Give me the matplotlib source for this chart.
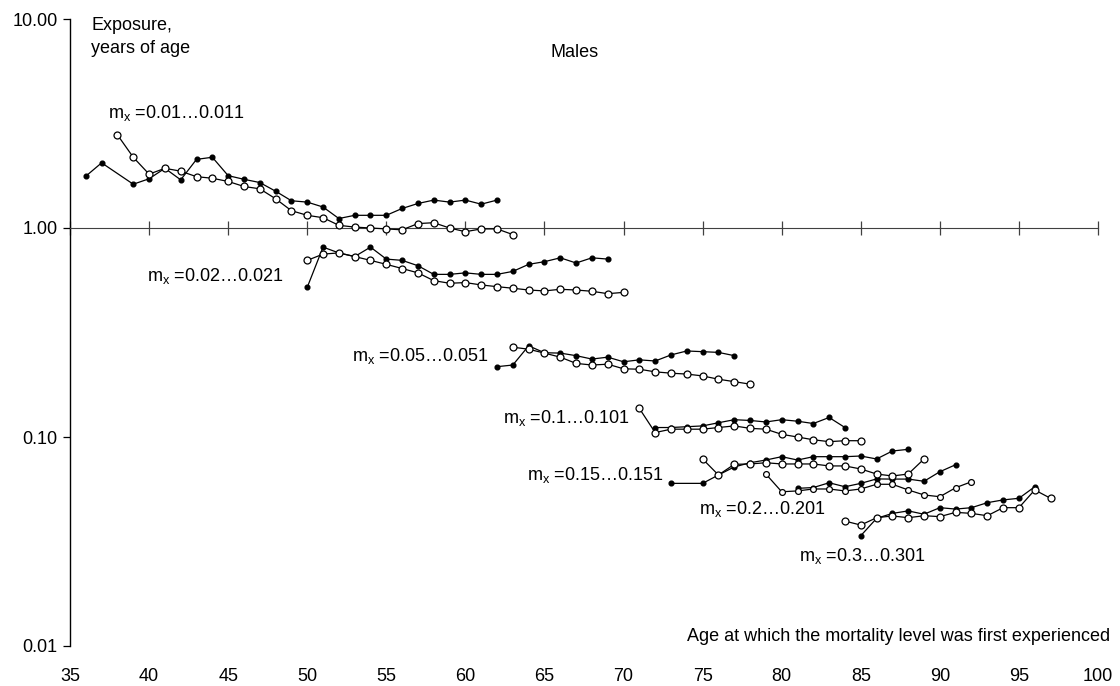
import matplotlib
matplotlib.use("Agg")
import matplotlib.pyplot as plt

plt.rcParams['font.family'] = ['Liberation Sans', 'DejaVu Sans']
plt.rcParams['mathtext.fontset'] = 'custom'
plt.rcParams['mathtext.rm'] = 'Liberation Sans'
plt.rcParams['mathtext.it'] = 'Liberation Sans'
plt.rcParams['mathtext.default'] = 'regular'

FS = 13

# ---------------- data ----------------
s1_filled_age = [36, 37, 39, 40, 41, 42, 43, 44, 45, 46, 47, 48, 49, 50, 51, 52, 53, 54, 55, 56, 57, 58, 59, 60, 61, 62]
s1_filled_val = [1.77, 2.05, 1.62, 1.72, 1.93, 1.70, 2.13, 2.18, 1.78, 1.71, 1.65, 1.50, 1.35, 1.33, 1.26, 1.11,
                 1.15, 1.15, 1.15, 1.24, 1.31, 1.36, 1.33, 1.36, 1.30, 1.36]
s1_open_age = [38, 39, 40, 41, 42, 43, 44, 45, 46, 47, 48, 49, 50, 51, 52, 53, 54, 55, 56, 57, 58, 59, 60, 61, 62, 63]
s1_open_val = [2.79, 2.18, 1.81, 1.93, 1.87, 1.76, 1.73, 1.67, 1.58, 1.54, 1.38, 1.21, 1.15, 1.12, 1.03, 1.01,
               1.00, 0.99, 0.98, 1.05, 1.06, 1.00, 0.96, 0.99, 0.99, 0.93]

s2_filled_age = [50, 51, 52, 53, 54, 55, 56, 57, 58, 59, 60, 61, 62, 63, 64, 65, 66, 67, 68, 69]
s2_filled_val = [0.52, 0.81, 0.76, 0.73, 0.81, 0.71, 0.70, 0.66, 0.60, 0.60, 0.61, 0.60, 0.60, 0.62, 0.67,
                 0.69, 0.72, 0.68, 0.72, 0.71]
s2_open_age = [50, 51, 52, 53, 54, 55, 56, 57, 58, 59, 60, 61, 62, 63, 64, 65, 66, 67, 68, 69, 70]
s2_open_val = [0.70, 0.75, 0.76, 0.73, 0.70, 0.67, 0.64, 0.61, 0.56, 0.544, 0.548, 0.534, 0.524, 0.515, 0.505,
               0.500, 0.509, 0.505, 0.498, 0.485, 0.492]

s3_filled_age = [62, 63, 64, 65, 66, 67, 68, 69, 70, 71, 72, 73, 74, 75, 76, 77]
s3_filled_val = [0.217, 0.221, 0.273, 0.253, 0.252, 0.245, 0.236, 0.241, 0.229, 0.234, 0.231, 0.247, 0.258,
                 0.256, 0.254, 0.245]
s3_open_age = [63, 64, 65, 66, 67, 68, 69, 70, 71, 72, 73, 74, 75, 76, 77, 78]
s3_open_val = [0.269, 0.263, 0.252, 0.241, 0.225, 0.221, 0.223, 0.212, 0.211, 0.205, 0.202, 0.200, 0.196,
               0.189, 0.184, 0.179]

s4_filled_age = [72, 73, 74, 75, 76, 77, 78, 79, 80, 81, 82, 83, 84]
s4_filled_val = [0.111, 0.111, 0.112, 0.113, 0.117, 0.121, 0.120, 0.118, 0.121, 0.119, 0.116, 0.124, 0.111]
s4_open_age = [71, 72, 73, 74, 75, 76, 77, 78, 79, 80, 81, 82, 83, 84, 85]
s4_open_val = [0.137, 0.105, 0.109, 0.109, 0.109, 0.111, 0.113, 0.110, 0.109, 0.103, 0.100, 0.097, 0.095,
               0.096, 0.096]

s5_filled_age = [73, 75, 76, 77, 78, 79, 80, 81, 82, 83, 84, 85, 86, 87, 88]
s5_filled_val = [0.0600, 0.0600, 0.0658, 0.0719, 0.0753, 0.0776, 0.0805, 0.0776, 0.0805, 0.0805, 0.0805,
                 0.0811, 0.0785, 0.0857, 0.0873]
s5_open_age = [75, 76, 77, 78, 79, 80, 81, 82, 83, 84, 85, 86, 87, 88, 89]
s5_open_val = [0.0785, 0.0658, 0.0740, 0.0743, 0.0753, 0.0743, 0.0743, 0.0743, 0.0727, 0.0727, 0.0703,
               0.0665, 0.0651, 0.0665, 0.0785]

s6_filled_age = [81, 82, 83, 84, 85, 86, 87, 88, 89, 90, 91]
s6_filled_val = [0.0568, 0.0573, 0.0604, 0.0578, 0.0600, 0.0630, 0.0629, 0.0629, 0.0614, 0.0682, 0.0737]
s6_open_age = [79, 80, 81, 82, 83, 84, 85, 86, 87, 88, 89, 90, 91, 92]
s6_open_val = [0.0665, 0.0547, 0.0552, 0.0564, 0.0564, 0.0552, 0.0564, 0.0594, 0.0594, 0.0558, 0.0528,
               0.0518, 0.0572, 0.0611]

s7_filled_age = [85, 86, 87, 88, 89, 90, 91, 92, 93, 94, 95, 96]
s7_filled_val = [0.0337, 0.0408, 0.0431, 0.0443, 0.0427, 0.0459, 0.0452, 0.0459, 0.0485, 0.0500, 0.0509, 0.0578]
s7_open_age = [84, 85, 86, 87, 88, 89, 90, 91, 92, 93, 94, 95, 96, 97]
s7_open_val = [0.0396, 0.0379, 0.0411, 0.0419, 0.0411, 0.0420, 0.0416, 0.0436, 0.0431, 0.0420, 0.0459,
               0.0459, 0.0558, 0.0509]

group_labels = ['m$_{x}$ =0.01…0.011', 'm$_{x}$ =0.02…0.021', 'm$_{x}$ =0.05…0.051',
                'm$_{x}$ =0.1…0.101', 'm$_{x}$ =0.15…0.151', 'm$_{x}$ =0.2…0.201', 'm$_{x}$ =0.3…0.301']
label_x = [37.4, 39.9, 52.8, 62.4, 63.9, 74.8, 81.1]
label_y = [3.55, 0.589, 0.244, 0.1233, 0.0658, 0.0452, 0.0270]

x_ticks = [35, 40, 45, 50, 55, 60, 65, 70, 75, 80, 85, 90, 95, 100]
y_ticks = [0.01, 0.1, 1, 10]
y_tick_labels = ['0.01', '0.10', '1.00', '10.00']

# ---------------- figure ----------------
fig = plt.figure(figsize=(11.2, 6.86), dpi=100)
ax = fig.add_axes([70 / 1120, 1 - 646 / 686, (1098 - 70) / 1120, (646 - 19) / 686])
ax.set_yscale('log')
ax.set_xlim(35, 100)
ax.set_ylim(0.01, 10)

filled = [(s1_filled_age, s1_filled_val), (s2_filled_age, s2_filled_val), (s3_filled_age, s3_filled_val),
          (s4_filled_age, s4_filled_val), (s5_filled_age, s5_filled_val), (s6_filled_age, s6_filled_val),
          (s7_filled_age, s7_filled_val)]
opened = [(s1_open_age, s1_open_val), (s2_open_age, s2_open_val), (s3_open_age, s3_open_val),
          (s4_open_age, s4_open_val), (s5_open_age, s5_open_val), (s6_open_age, s6_open_val),
          (s7_open_age, s7_open_val)]

for a, v in filled:
    ax.plot(a, v, '-', color='black', lw=0.9, marker='o', ms=3.4, mfc='black', mec='black', zorder=3)
for i, (a, v) in enumerate(opened):
    ax.plot(a, v, '-', color='black', lw=0.9, marker='o', ms=5.0 if i != 5 else 4.2,
            mfc='white', mec='black', mew=0.9, zorder=4)

for t, x, y in zip(group_labels, label_x, label_y):
    ax.text(x, y, t, ha='left', va='center', fontsize=FS)

ax.text(66.9, 6.95, 'Males', ha='center', va='center', fontsize=FS)
ax.text(36.33, 10.2, 'Exposure,\nyears of age', ha='left', va='top', fontsize=FS,
        linespacing=1.45, clip_on=False)
ax.text(100.74, 0.01116, 'Age at which the mortality level was first experienced', ha='right', va='center',
        fontsize=FS, clip_on=False)

# spines
ax.spines['top'].set_visible(False)
ax.spines['right'].set_visible(False)
ax.spines['bottom'].set_position(('data', 1))
ax.spines['bottom'].set_color('#404040')
ax.spines['left'].set_color('black')
ax.spines['left'].set_linewidth(1.0)

ax.set_yticks(y_ticks)
ax.set_yticklabels(y_tick_labels, fontsize=FS)
ax.yaxis.set_minor_locator(matplotlib.ticker.NullLocator())
ax.tick_params(axis='y', direction='out', length=5, width=0.9, pad=4)

ax.set_xticks(x_ticks)
ax.tick_params(axis='x', direction='inout', length=10, width=0.9, labelbottom=False, color='#404040')

sec = ax.secondary_xaxis(0)
sec.set_xticks(x_ticks)
sec.set_xticklabels([str(x) for x in x_ticks], fontsize=FS)
sec.spines['bottom'].set_visible(False)
sec.tick_params(length=0, pad=16)

fig.savefig('out.png', dpi=100)
